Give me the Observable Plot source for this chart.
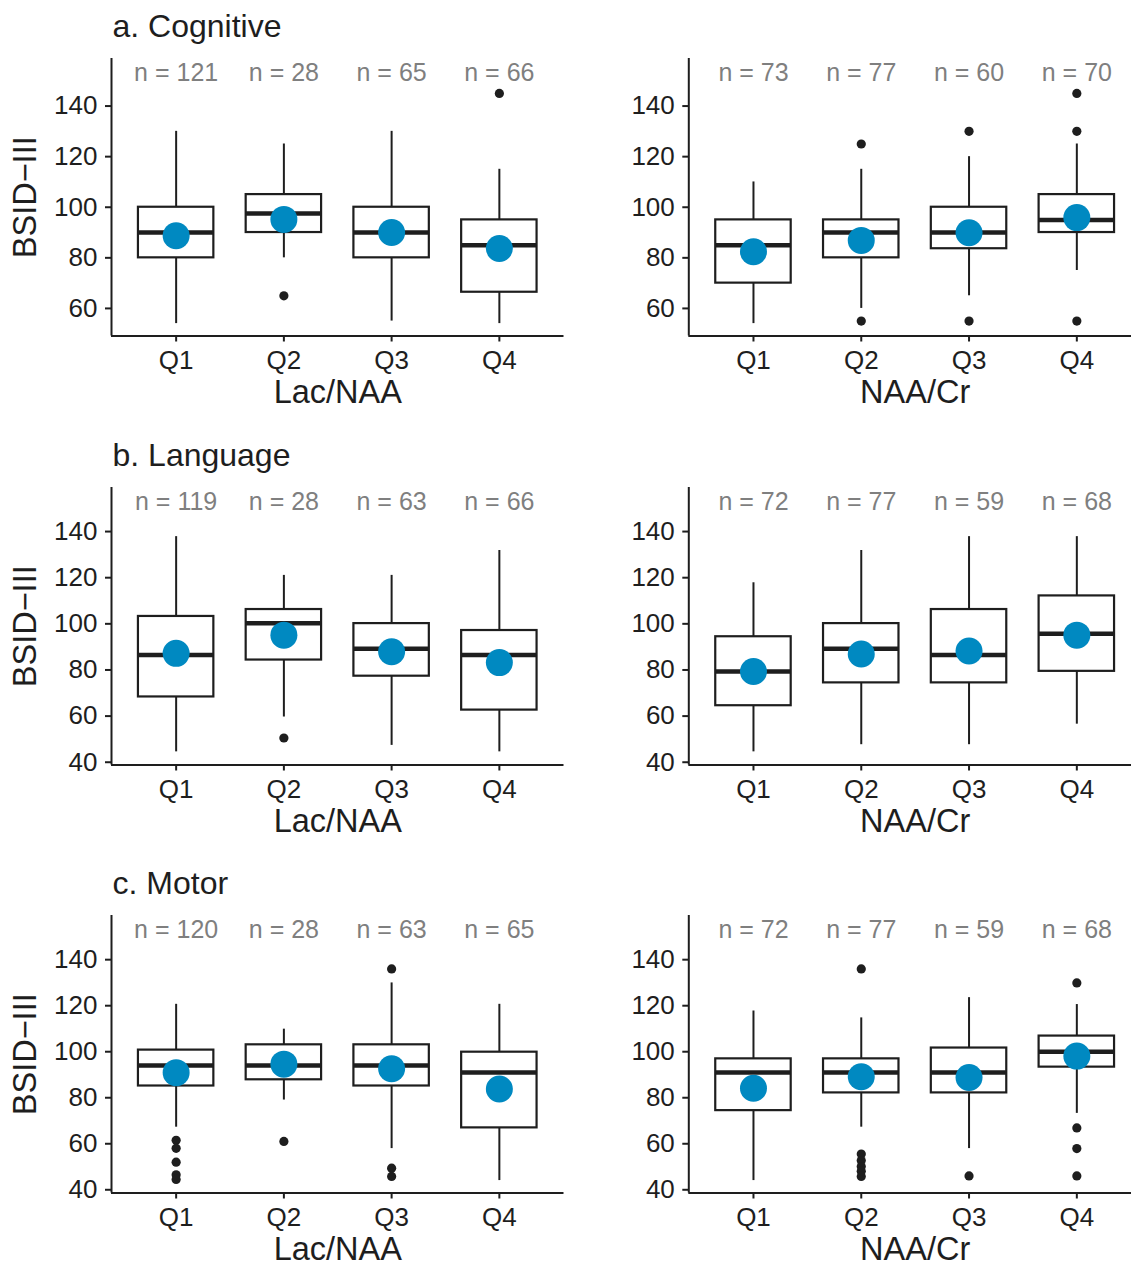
<!DOCTYPE html>
<html>
<head>
<meta charset="utf-8">
<script src="https://cdn.jsdelivr.net/npm/d3@7"></script>
<script src="https://cdn.jsdelivr.net/npm/@observablehq/plot@0.6"></script>
<style>
  html, body { margin: 0; padding: 0; background: #fff; }
  #chart { position: relative; width: 1131px; height: 1266px; overflow: hidden; background: #fff; }
  #chart > svg { position: absolute; }
</style>
</head>
<body>
<div id="chart"></div>
<script>
// ---------- DATA ----------
const quartiles = ["Q1", "Q2", "Q3", "Q4"];
// each row: [lower whisker, Q1 (25%), median, Q3 (75%), upper whisker, mean]

// a. Cognitive
const cogLacStats = [[54, 80, 90, 100, 130, 88.7], [80, 90, 97.5, 105, 125, 95.2], [55, 80, 90, 100, 130, 90], [54, 66.4, 85, 95, 115, 83.7]];
const cogLacN = [121, 28, 65, 66];
const cogLacOut = [[], [65], [], [145]];
const cogNaaStats = [[54, 70, 85, 95, 110, 82.4], [60, 80, 90, 95, 115, 86.9], [65, 83.6, 90, 100, 120, 89.9], [75, 90, 95, 105, 125, 95.9]];
const cogNaaN = [73, 77, 60, 70];
const cogNaaOut = [[], [125, 55], [130, 55], [145, 130, 55]];

// b. Language
const langLacStats = [[44.5, 68.3, 86.5, 103.2, 137.8, 87.2], [59.6, 84.3, 100.3, 106.2, 121, 95.1], [47.3, 77.3, 89.2, 100.1, 121, 87.9], [44.5, 62.6, 86.5, 97.1, 131.8, 83.2]];
const langLacN = [119, 28, 63, 66];
const langLacOut = [[], [50.5], [], []];
const langNaaStats = [[44.5, 64.5, 79.3, 94.4, 117.8, 79.3], [47.6, 74.4, 89.2, 100.1, 131.8, 86.9], [47.6, 74.4, 86.5, 106.2, 137.8, 88.2], [56.5, 79.4, 95.7, 112.1, 137.8, 95.1]];
const langNaaN = [72, 77, 59, 68];
const langNaaOut = [[], [], [], []];

// c. Motor
const motLacStats = [[67.2, 85.1, 94, 100.7, 120.6, 90.9], [79, 87.8, 94, 103, 109.8, 94.6], [57.9, 85.1, 94, 103, 129.9, 92.6], [44, 66.9, 91, 99.8, 120.6, 83.8]];
const motLacN = [120, 28, 63, 65];
const motLacOut = [[61.5, 58, 52, 46.5, 44.5], [61], [136, 49.4, 45.8], []];
const motNaaStats = [[44, 74.4, 91, 96.9, 117.7, 84.1], [67.2, 82.1, 91, 96.9, 114.7, 89.1], [57.9, 82.1, 91, 101.6, 123.5, 88.8], [73.2, 93.3, 100, 106.8, 120.5, 98.1]];
const motNaaN = [72, 77, 59, 68];
const motNaaOut = [[], [136, 55.5, 52.7, 50.1, 48, 45.8], [46], [129.9, 66.9, 57.9, 46]];

const rowTitles = ["a. Cognitive", "b. Language", "c. Motor"];
const xTitles = ["Lac/NAA", "NAA/Cr"];
const yTitle = "BSID\u2212III";
const ticksTop = [60, 80, 100, 120, 140];
const ticksOther = [40, 60, 80, 100, 120, 140];

// ---------- STYLE ----------
const ink = "#1e1e1e";
const blue = "#0089c1";
const grey = "#7f7f7f";
const font = "'Liberation Sans', Arial, Helvetica, sans-serif";
const boxHalf = 0.35;

const rows = [
  {title: rowTitles[0], top: 58.3, domain: [49.1, 158.8], ticks: ticksTop,
   panels: [[cogLacStats, cogLacN, cogLacOut], [cogNaaStats, cogNaaN, cogNaaOut]]},
  {title: rowTitles[1], top: 486.7, domain: [38.8, 159.1], ticks: ticksOther,
   panels: [[langLacStats, langLacN, langLacOut], [langNaaStats, langNaaN, langNaaOut]]},
  {title: rowTitles[2], top: 915, domain: [38.6, 159.2], ticks: ticksOther,
   panels: [[motLacStats, motLacN, motLacOut], [motNaaStats, motNaaN, motNaaOut]]}
];

const chart = document.getElementById("chart");
const mTop = 60, frameH = 277.5, mBottom = 76.5;

function makePanel(stats, ns, outs, row, col) {
  const recs = stats.map((s, i) => ({i: i + 1, lo: s[0], q1: s[1], med: s[2], q3: s[3], hi: s[4], mean: s[5], n: ns[i]}));
  const outRecs = outs.flatMap((o, i) => o.map(v => ({i: i + 1, v})));
  const left = col === 0;
  const marks = [
    Plot.ruleX(recs, {x: "i", y1: "lo", y2: "hi", stroke: ink, strokeWidth: 2}),
    Plot.rect(recs, {x1: d => d.i - boxHalf, x2: d => d.i + boxHalf, y1: "q1", y2: "q3", fill: "white", stroke: ink, strokeWidth: 2.2}),
    Plot.ruleY(recs, {x1: d => d.i - boxHalf, x2: d => d.i + boxHalf, y: "med", stroke: ink, strokeWidth: 4.5}),
    Plot.dot(outRecs, {x: "i", y: "v", r: 4.6, fill: ink, stroke: "none"}),
    Plot.dot(recs, {x: "i", y: "mean", r: 13.5, fill: blue, stroke: "none"}),
    Plot.text(recs, {x: "i", text: d => `n = ${d.n}`, frameAnchor: "top", lineAnchor: "middle", dy: 14, fill: grey, fontSize: 25}),
    Plot.ruleX([0.4], {stroke: ink, strokeWidth: 2}),
    Plot.ruleY([row.domain[0]], {stroke: ink, strokeWidth: 2}),
    Plot.axisY({ticks: row.ticks, tickSize: 6, tickPadding: 8, fontSize: 26, label: null, stroke: ink, strokeWidth: 2, fill: ink}),
    Plot.axisX({ticks: [1, 2, 3, 4], tickFormat: v => quartiles[v - 1], tickSize: 6, tickPadding: 9, fontSize: 26, label: null, stroke: ink, strokeWidth: 2, fill: ink}),
    Plot.text([xTitles[col]], {text: d => d, frameAnchor: "bottom", textAnchor: "middle", lineAnchor: "bottom", dy: 66.5, fontSize: 32.5, fill: ink})
  ];
  if (left) {
    marks.push(Plot.text([yTitle], {text: d => d, frameAnchor: "left", textAnchor: "middle", lineAnchor: "middle", rotate: -90, dx: -86, fontSize: 32.5, fill: ink}));
    marks.push(Plot.text([row.title], {text: d => d, frameAnchor: "top-left", textAnchor: "start", lineAnchor: "bottom", dx: 1, dy: -21.5, fontSize: 32, fill: ink}));
  }
  const svg = Plot.plot({
    width: left ? 571 : 566,
    height: mTop + frameH + mBottom,
    marginTop: mTop,
    marginBottom: mBottom,
    marginLeft: left ? 111 : 113.3,
    marginRight: left ? 7.5 : 0,
    x: {type: "linear", domain: [0.4, 4.6], label: null},
    y: {domain: row.domain, label: null},
    style: {fontFamily: font, fontSize: "26px", color: ink, background: "transparent", overflow: "visible"},
    marks
  });
  svg.style.left = (left ? 0 : 575) + "px";
  svg.style.top = (row.top - mTop) + "px";
  chart.appendChild(svg);
}

rows.forEach(row => row.panels.forEach((p, col) => makePanel(p[0], p[1], p[2], row, col)));
</script>
</body>
</html>
